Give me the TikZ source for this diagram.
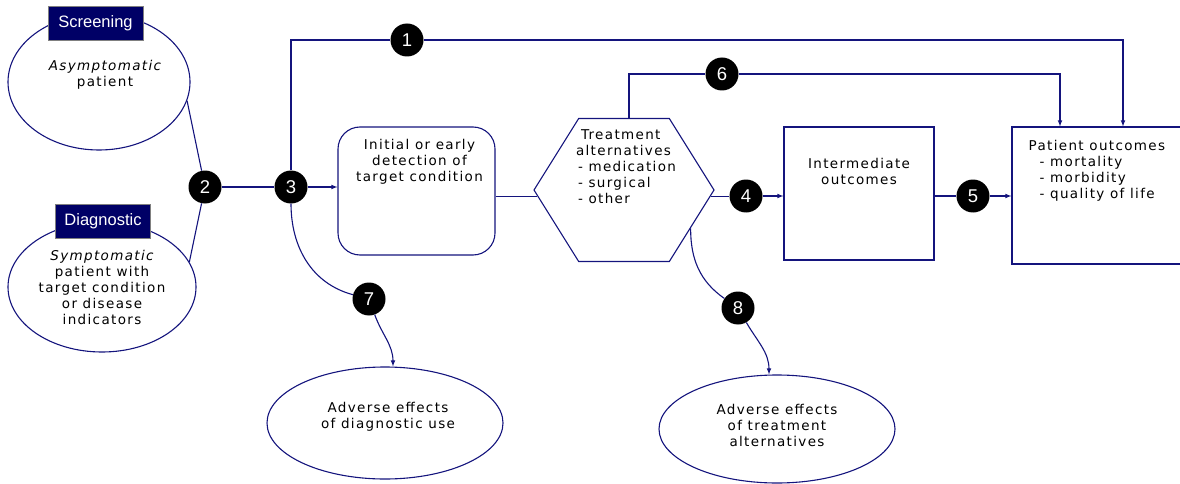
\documentclass[tikz,border=0pt]{standalone}
\usepackage{fontspec}
\setmainfont{DejaVu Sans}[LetterSpace=10]
\newfontfamily\tagfont{Liberation Sans}
\usetikzlibrary{shapes,shapes.symbols,arrows,positioning}
\definecolor{lineblue}{RGB}{20,20,125}
\definecolor{tagblue}{RGB}{0,0,102}

\begin{document}
\begin{tikzpicture}[x=1pt,y=-1pt,>=latex,
	conn/.style={draw=lineblue,line width=1.1pt},
	arr/.style={conn,->},
	oval/.style={ellipse,draw=lineblue,line width=1.1pt,inner sep=0pt},
	boxed/.style={draw=lineblue,line width=1.1pt,inner sep=0pt},
	tag/.style={draw=gray,fill=tagblue,text=white,font=\tagfont\fontsize{16.5}{19}\selectfont,minimum width=95pt,minimum height=34pt,inner sep=0pt},
	num/.style={circle,fill=black,text=white,font=\tagfont\fontsize{18.5}{20}\selectfont,minimum size=33pt,inner sep=0pt},
	boxtxt/.style={font=\fontsize{13.5}{16}\selectfont,inner sep=0pt}]
	\clip (0,0) rectangle (1180,484);

	\node[oval,minimum width=182pt,minimum height=136pt] (screen) at (99,82) {};
	\node[tag] (screentag) at (95.5,23) {Screening};
	\node[boxtxt,align=center] (screentxt) at (105,75) {{\itshape Asymptomatic}\\patient};

	\node[oval,boxtxt,align=center,minimum width=188pt,minimum height=130pt] (diag) at (102,287) {{\itshape Symptomatic}\\patient with\\target condition\\or disease\\indicators};
	\node[tag] (diagtag) at (103,221) {Diagnostic};

	\node[boxed,rounded corners=22pt,minimum width=157pt,minimum height=128pt] (detect) at (416.5,191) {};
	\node[boxtxt,align=center,below=13pt of detect.north,xshift=3pt] (detecttxt) {Initial or early\\detection of\\target condition};

	\node[boxed,signal,signal to=west and east,signal pointer angle=116,minimum width=180pt,minimum height=143pt] (treat) at (624,190) {};
	\node[boxtxt,align=left,below=12pt of treat.north,xshift=2pt] (treattxt) {\hspace*{5pt}Treatment\\alternatives\\\hspace*{2pt}- medication\\\hspace*{2pt}- surgical\\\hspace*{2pt}- other};

	\node[boxed,minimum width=150pt,minimum height=133pt] (inter) at (859,193.5) {};
	\node[boxtxt,align=center,below=32pt of inter.north] (intertxt) {Intermediate\\outcomes};

	\node[boxed,minimum width=178pt,minimum height=137pt] (patient) at (1101,195.5) {};
	\node[boxtxt,align=left,below right=14pt and 17pt of patient.north west] (patienttxt) {Patient outcomes\\\hspace*{11pt}- mortality\\\hspace*{11pt}- morbidity\\\hspace*{11pt}- quality of life};

	\node[oval,minimum width=236pt,minimum height=112pt] (adv1) at (385,423) {};
	\node[boxtxt,align=center] (adv1txt) at (388,417) {Adverse effects\\of diagnostic use};
	\node[oval,minimum width=236pt,minimum height=108pt] (adv2) at (777,429) {};
	\node[boxtxt,align=center] (adv2txt) at (777,425) {Adverse effects\\of treatment\\alternatives};

	\node[num] (c1) at (407,40) {1};
	\node[num] (c2) at (205,187) {2};
	\node[num] (c3) at (291,187) {3};
	\node[num] (c4) at (746,196) {4};
	\node[num] (c5) at (973,196) {5};
	\node[num] (c6) at (722,74) {6};
	\node[num] (c7) at (369,299) {7};
	\node[num] (c8) at (738,308) {8};

	\draw[conn] (screen.-12) -- (c2);
	\draw[conn] (diag.16) -- (c2);
	\draw[conn] (c2) -- (c3);
	\draw[arr] (c3) -- (c3 -| detect.west);
	\draw[conn] (detect.east |- treat.184) -- (treat.184);
	\draw[conn] (treat.-4) -- (treat.-4 -| c4.west);
	\draw[arr] (c4) -- (c4 -| inter.west);
	\draw[conn] (inter.east |- c5) -- (c5);
	\draw[arr] (c5) -- (c5 -| patient.west);
	\draw[conn] (c3) -- (c3 |- c1) -- (c1);
	\draw[arr] (c1) -| ([xshift=22pt]patient.north);
	\draw[conn] ([xshift=5pt]treat.north) |- (c6);
	\draw[arr] (c6) -| ([xshift=-41pt]patient.north);
	\draw[conn] (c3) to[out=-90,in=165] (c7);
	\draw[arr] (c7) to[out=-70,in=90] ([xshift=8pt]adv1.north);
	\draw[conn] (treat.-30) to[out=-90,in=145] (c8);
	\draw[arr] (c8) to[out=-60,in=90] ([xshift=-8pt]adv2.north);
\end{tikzpicture}
\end{document}
